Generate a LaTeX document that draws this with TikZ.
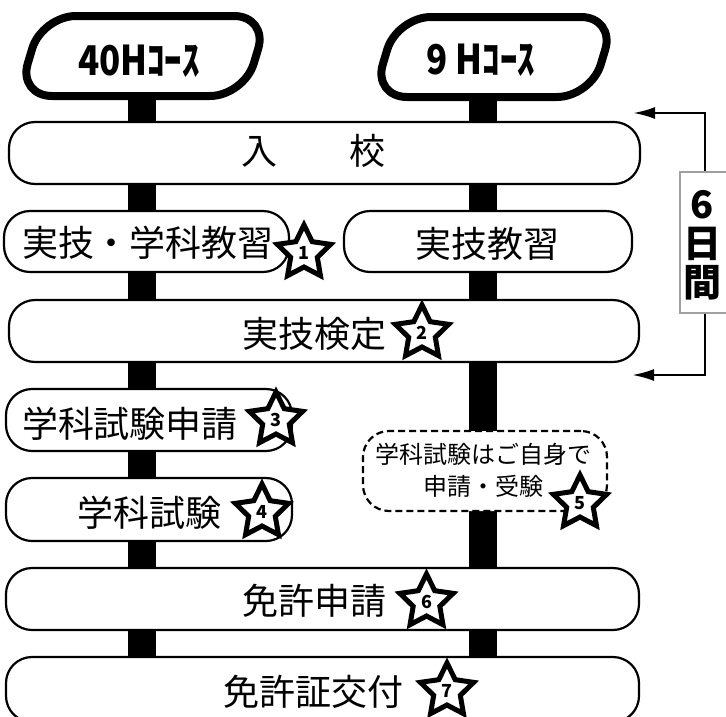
\documentclass[tikz,border=0pt]{standalone}
\usepackage{fontspec}
\setmainfont{Noto Sans CJK JP}
\newfontfamily\bannerfont{Noto Sans CJK JP}[FakeStretch=0.85]
\usetikzlibrary{shapes.geometric,arrows.meta}
\definecolor{framegray}{HTML}{A0A0A0}
\begin{document}
\begin{tikzpicture}[x=1pt,y=-1pt,
  box/.style={draw, line width=2.2pt, fill=white, rounded corners=26pt, inner sep=0pt},
  dbox/.style={box, dash pattern=on 7pt off 4pt},
  lbl/.style={inner sep=0pt, anchor=base, font=\fontsize{36}{40}\selectfont},
  slbl/.style={inner sep=0pt, anchor=base, font=\fontsize{24}{28}\selectfont},
  blbl/.style={inner sep=0pt, anchor=base, font=\bannerfont\bfseries\fontsize{41}{41}\selectfont},
  dlbl/.style={inner sep=0pt, anchor=base, font=\bfseries\fontsize{38}{38}\selectfont},
  starbadge/.style={star, star points=5, star point ratio=2.0, minimum size=56pt, draw, line width=5pt, fill=white, inner sep=0pt, font=\bfseries\fontsize{18}{18}\selectfont},
  stem/.style={line width=28pt},
  banner/.style={line width=8pt, fill=white, rounded corners=34pt},
  bracket/.style={line width=2.5pt, -{Latex[length=22pt,width=12pt]}}
]
\useasboundingbox (0,0) rectangle (726,716);
\clip (0,0) rectangle (726,716);

% stems
\coordinate (s1top) at (142,95);
\coordinate (s1bot) at (142,720);
\coordinate (s2top) at (483,95);
\coordinate (s2bot) at (483,720);
\draw[stem] (s1top) -- (s1bot);
\draw[stem] (s2top) -- (s2bot);

% banners
\begin{scope}[shift={(143,56)}, xslant=0.3]
  \draw[banner] (-113,-40) rectangle (113,40);
\end{scope}
\begin{scope}[shift={(494,57)}, xslant=0.3]
  \draw[banner] (-109,-40) rectangle (109,40);
\end{scope}
\node[blbl] (c40) at (139,75) {40Hｺｰｽ};
\node[blbl] (c9) at (481,74) {9 Hｺｰｽ};

% boxes
\node[box, minimum width=631pt, minimum height=62pt] (nyuko) at (324.5,153) {};
\node[box, minimum width=285pt, minimum height=61pt] (jg) at (146.5,241.5) {};
\node[box, minimum width=288pt, minimum height=61pt] (jk) at (488,241.5) {};
\node[box, minimum width=630pt, minimum height=62pt] (kentei) at (324,331) {};
\node[box, minimum width=286pt, minimum height=62pt] (shinsei) at (149,420) {};
\node[box, minimum width=286pt, minimum height=63pt] (shiken) at (149,509.5) {};
\node[dbox, minimum width=244pt, minimum height=80pt] (jibun) at (485,471) {};
\node[box, minimum width=633pt, minimum height=62pt] (menkyo) at (322.5,599) {};
\node[box, minimum width=633pt, minimum height=65pt] (koufu) at (322.5,689.5) {};

% labels
\node[lbl] (t1) at (313,164) {入　　校};
\node[lbl] (t2) at (148,256) {実技・学科教習};
\node[lbl] (t3) at (487,257) {実技教習};
\node[lbl] (t4) at (314,347) {実技検定};
\node[lbl] (t5) at (130,437) {学科試験申請};
\node[lbl] (t6) at (149,526) {学科試験};
\node[slbl] (t7a) at (483,463) {学科試験はご自身で};
\node[slbl] (t7b) at (483,495.5) {申請・受験};
\node[lbl] (t8) at (314,614) {免許申請};
\node[lbl] (t9) at (313.5,705) {免許証交付};

% stars
\node[starbadge] (st1) at (304,253) {1};
\node[starbadge] (st2) at (422,333) {2};
\node[starbadge] (st3) at (276,420) {3};
\node[starbadge] (st4) at (262,512) {4};
\node[starbadge] (st5) at (580,503) {5};
\node[starbadge] (st6) at (426.5,602) {6};
\node[starbadge] (st7) at (447,691) {7};

% 6 days bracket
\node[draw=framegray, line width=2.5pt, fill=white, minimum width=50pt, minimum height=141pt, inner sep=0pt] (days) at (705,242.5) {};
\node[dlbl] (d1) at (702,218) {6};
\node[dlbl] (d2) at (702,257) {日};
\node[dlbl] (d3) at (702,296) {間};
\coordinate (atop) at (633,113);
\coordinate (abot) at (632,375);
\draw[bracket] (days.north) |- (atop);
\draw[bracket] (days.south) |- (abot);
\end{tikzpicture}
\end{document}
